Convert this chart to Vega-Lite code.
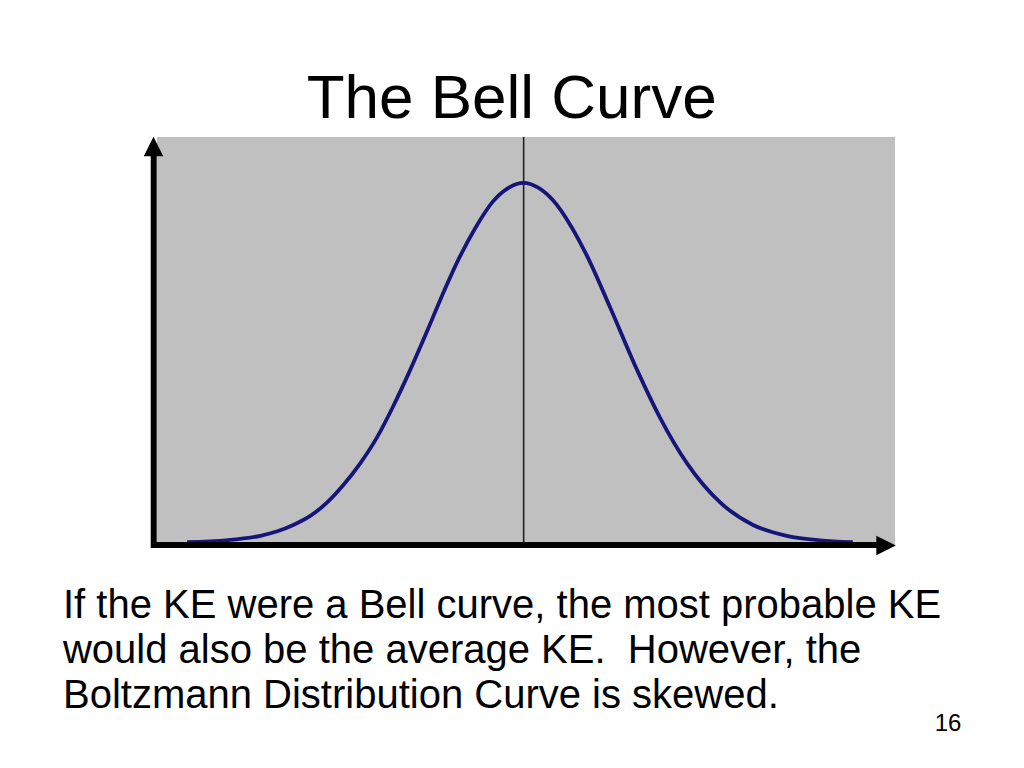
{
  "$schema": "https://vega.github.io/schema/vega-lite/v6.json",
  "autosize": "none",
  "width": 738,
  "height": 408,
  "padding": {"left": 157, "top": 137, "right": 129, "bottom": 223},
  "background": "white",
  "config": {
    "view": {"fill": "#c0c0c0", "stroke": null},
    "font": "Liberation Sans"
  },
  "datasets": {
    "curve": [
      {"x": -3.58, "y": 0.001},
      {"x": -3.16, "y": 0.003},
      {"x": -2.80, "y": 0.008},
      {"x": -2.62, "y": 0.013},
      {"x": -2.45, "y": 0.020},
      {"x": -2.27, "y": 0.030},
      {"x": -2.09, "y": 0.045},
      {"x": -1.92, "y": 0.064},
      {"x": -1.74, "y": 0.088},
      {"x": -1.56, "y": 0.117},
      {"x": -1.39, "y": 0.151},
      {"x": -1.21, "y": 0.191},
      {"x": -1.03, "y": 0.234},
      {"x": -0.86, "y": 0.276},
      {"x": -0.68, "y": 0.317},
      {"x": -0.52, "y": 0.348},
      {"x": -0.33, "y": 0.378},
      {"x": -0.17, "y": 0.393},
      {"x": 0.00, "y": 0.399},
      {"x": 0.15, "y": 0.394},
      {"x": 0.31, "y": 0.380},
      {"x": 0.51, "y": 0.350},
      {"x": 0.67, "y": 0.319},
      {"x": 0.92, "y": 0.261},
      {"x": 1.21, "y": 0.191},
      {"x": 1.45, "y": 0.139},
      {"x": 1.74, "y": 0.088},
      {"x": 2.09, "y": 0.045},
      {"x": 2.44, "y": 0.020},
      {"x": 2.80, "y": 0.008},
      {"x": 3.15, "y": 0.003},
      {"x": 3.50, "y": 0.001}
    ],
    "one": [{}]
  },
  "encoding": {
    "x": {"type": "quantitative", "scale": {"domain": [-3.9, 3.95], "zero": false, "nice": false}, "axis": null},
    "y": {"type": "quantitative", "scale": {"domain": [-0.0022, 0.4499], "zero": false, "nice": false}, "axis": null}
  },
  "layer": [
    {
      "data": {"name": "one"},
      "mark": {"type": "rule", "color": "#222222", "strokeWidth": 1.6},
      "encoding": {"x": {"datum": 0}}
    },
    {
      "data": {"name": "curve"},
      "mark": {"type": "line", "color": "#16167a", "strokeWidth": 3.8, "interpolate": "monotone", "clip": false},
      "encoding": {"x": {"field": "x"}, "y": {"field": "y"}}
    },
    {
      "data": {"name": "one"},
      "mark": {"type": "rule", "color": "black", "strokeWidth": 6, "strokeCap": "butt"},
      "encoding": {"x": {"datum": -3.96}, "x2": {"datum": 3.77}, "y": {"datum": -0.0022}}
    },
    {
      "data": {"name": "one"},
      "mark": {"type": "rule", "color": "black", "strokeWidth": 6, "strokeCap": "butt"},
      "encoding": {"x": {"datum": -3.935}, "y": {"datum": -0.0055}, "y2": {"datum": 0.436}}
    },
    {
      "data": {"name": "one"},
      "mark": {"type": "point", "shape": "M-1,1L1,1L0,-1Z", "filled": true, "color": "black", "opacity": 1, "size": 380, "strokeWidth": 0},
      "encoding": {"x": {"datum": -3.937}, "y": {"datum": 0.4394}}
    },
    {
      "data": {"name": "one"},
      "mark": {"type": "point", "shape": "M-1,-1L1,0L-1,1Z", "filled": true, "color": "black", "opacity": 1, "size": 380, "strokeWidth": 0},
      "encoding": {"x": {"datum": 3.855}, "y": {"datum": -0.0028}}
    },
    {
      "data": {"name": "one"},
      "mark": {"type": "text", "align": "center", "baseline": "alphabetic", "fontSize": 62, "font": "Liberation Sans", "color": "black", "text": "The Bell Curve"},
      "encoding": {"x": {"datum": -0.127}, "y": {"datum": 0.471}}
    },
    {
      "data": {"name": "one"},
      "mark": {
        "type": "text",
        "align": "left",
        "baseline": "alphabetic",
        "fontSize": 40,
        "font": "Liberation Sans",
        "color": "black",
        "lineHeight": 45,
        "text": ["If the KE were a Bell curve, the most probable KE", "would also be the average KE.\u00a0 However, the", "Boltzmann Distribution Curve is skewed."]
      },
      "encoding": {"x": {"datum": -4.9}, "y": {"datum": -0.0831}}
    },
    {
      "data": {"name": "one"},
      "mark": {"type": "text", "align": "center", "baseline": "alphabetic", "fontSize": 24, "font": "Liberation Sans", "color": "black", "text": "16"},
      "encoding": {"x": {"datum": 4.515}, "y": {"datum": -0.2083}}
    }
  ]
}
